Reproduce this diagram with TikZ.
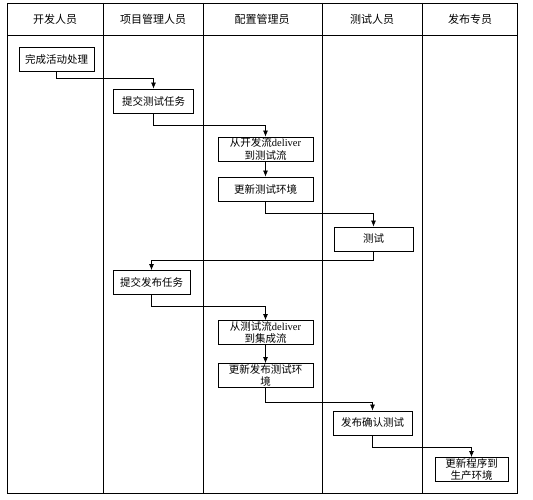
\documentclass[tikz,border=0pt]{standalone}
\usepackage{fontspec}
\setmainfont{Liberation Serif}
\newfontfamily\cjk{Noto Sans CJK SC}
\usetikzlibrary{positioning, arrows.meta}

\begin{document}
\begin{tikzpicture}[x=1pt, y=-1pt,
        lane/.style={line width=0.9pt},
        head/.style={font=\cjk\fontsize{11}{12}\selectfont},
        task/.style={draw, line width=0.8pt, inner sep=0pt, align=center,
          font=\cjk\fontsize{10.5}{12.5}\selectfont, minimum height=24pt},
        flow/.style={-{Latex[length=6pt,width=5pt]}, line width=0.7pt}]
        \useasboundingbox (0,0) rectangle (533,500);
        \draw[lane] (7,3) rectangle (517,493);
        \draw[lane] (7,35) -- (517,35);
        \foreach \x in {103,203,322,422} \draw[lane] (\x,3) -- (\x,493);

        \node[head] (dev) at (55,19) {开发人员};
        \node[head] (pm) at (153,19) {项目管理人员};
        \node[head] (cm) at (262,19) {配置管理员};
        \node[head] (qa) at (372,19) {测试人员};
        \node[head] (rel) at (470,19) {发布专员};

        \node[task, minimum width=75pt] (b1) at (56.5,59.5) {完成活动处理};
        \node[task, minimum width=80pt] (b2) at (153.5,101) {提交测试任务};
        \node[task, minimum width=95pt] (b3) at (265.5,149) {从开发流\textrm{deliver}\\到测试流};
        \node[task, minimum width=95pt] (b4) at (265.5,189) {更新测试环境};
        \node[task, minimum width=79pt] (b5) at (373.5,239) {测试};
        \node[task, minimum width=77pt] (b6) at (151.5,282.5) {提交发布任务};
        \node[task, minimum width=95pt] (b7) at (265.5,332.5) {从测试流\textrm{deliver}\\到集成流};
        \node[task, minimum width=95pt] (b8) at (265.5,375.5) {更新发布测试环\\境};
        \node[task, minimum width=79pt] (b9) at (372.5,423) {发布确认测试};
        \node[task, minimum width=73pt] (b10) at (471.5,469.5) {更新程序到\\生产环境};

        \draw[flow] (b1.south) -- ++(0,6) -| (b2.north);
        \draw[flow] (b2.south) -- ++(0,12) -| (b3.north);
        \draw[flow] (b3.south) -- (b4.north);
        \draw[flow] (b4.south) -- ++(0,12) -| (b5.north);
        \draw[flow] (b5.south) -- ++(0,9) -| (b6.north);
        \draw[flow] (b6.south) -- ++(0,11) -| (b7.north);
        \draw[flow] (b7.south) -- (b8.north);
        \draw[flow] (b8.south) -- ++(0,14) -| (b9.north);
        \draw[flow] (b9.south) -- ++(0,12) -| (b10.north);
\end{tikzpicture}
\end{document}
